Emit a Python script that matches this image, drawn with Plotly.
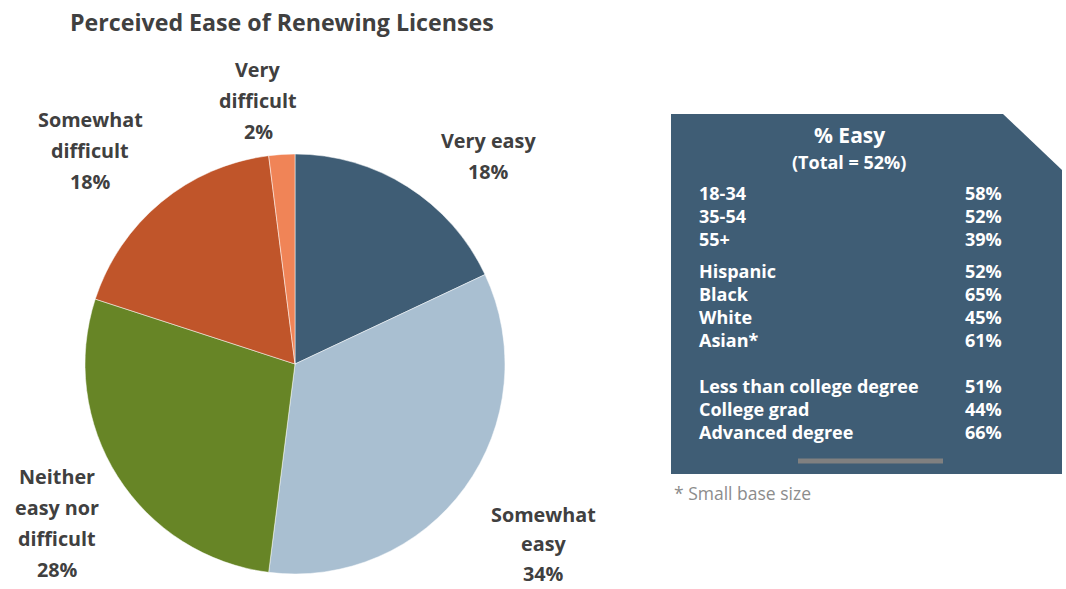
import plotly.graph_objects as go

# ---- data ----
categories = ["Very easy", "Somewhat easy", "Neither easy nor difficult", "Somewhat difficult", "Very difficult"]
values = [18, 34, 28, 18, 2]
colors = ["#3F5D75", "#A9BFD1", "#678526", "#C0552A", "#F08457"]
label_lines = [
    ["Very easy", "18%"],
    ["Somewhat", "easy", "34%"],
    ["Neither", "easy nor", "difficult", "28%"],
    ["Somewhat", "difficult", "18%"],
    ["Very", "difficult", "2%"],
]
# label anchor (center x, first line y, line gap) in pixels
label_pos = [(488, 140, 31), (543, 514, 29.5), (57, 476, 31), (90, 119, 31), (258, 69, 31)]

table_title = "% Easy"
table_subtitle = "(Total = 52%)"
age_groups = ["18-34", "35-54", "55+"]
age_values = ["58%", "52%", "39%"]
eth_groups = ["Hispanic", "Black", "White", "Asian*"]
eth_values = ["52%", "65%", "45%", "61%"]
edu_groups = ["Less than college degree", "College grad", "Advanced degree"]
edu_values = ["51%", "44%", "66%"]
footnote = "* Small base size"
title = "Perceived Ease of Renewing Licenses"

W, H = 1066, 589
FONT = "Open Sans"
TXT = "#404040"

fig = go.Figure()

# pie: center (295,364), radius 210 px
cx, cy, r = 295, 364, 210
fig.add_trace(go.Pie(
    labels=categories, values=values, sort=False, direction="clockwise", rotation=0,
    marker=dict(colors=colors, line=dict(color="white", width=0.5)),
    textinfo="none", hoverinfo="label+percent", showlegend=False,
    domain=dict(x=[(cx - r) / W, (cx + r) / W], y=[(H - cy - r) / H, (H - cy + r) / H]),
))

annotations = []
shapes = []

annotations.append(dict(x=68, y=22, xref="x", yref="y", text="<b>" + title + "</b>", showarrow=False,
                        xanchor="left", yanchor="middle", font=dict(family=FONT, size=23.2, color=TXT)))

for lines, (lx, ly, gap) in zip(label_lines, label_pos):
    for i, t in enumerate(lines):
        annotations.append(dict(x=lx, y=ly + i * gap, xref="x", yref="y", text="<b>" + t + "</b>",
                                showarrow=False, xanchor="center", yanchor="middle",
                                font=dict(family=FONT, size=19.8, color=TXT)))

# table panel with cut corner
px0, py0, px1, py1 = 671, 114, 1062, 474
cut_x, cut_y = 1003, 170
shapes.append(dict(type="path", xref="x", yref="y",
                   path=f"M {px0},{py0} L {cut_x},{py0} L {px1},{cut_y} L {px1},{py1} L {px0},{py1} Z",
                   fillcolor="#3F5D75", line=dict(width=0), layer="below"))
shapes.append(dict(type="line", xref="x", yref="y", x0=798, x1=943, y0=461, y1=461,
                   line=dict(color="#808080", width=5)))

annotations.append(dict(x=849, y=135, xref="x", yref="y", text="<b>" + table_title + "</b>", showarrow=False,
                        xanchor="center", yanchor="middle", font=dict(family=FONT, size=21, color="white")))
annotations.append(dict(x=849, y=162, xref="x", yref="y", text="<b>" + table_subtitle + "</b>", showarrow=False,
                        xanchor="center", yanchor="middle", font=dict(family=FONT, size=18, color="white")))

row_gap = 23
group_starts = [193, 271, 386]
for start, groups, vals in zip(group_starts, [age_groups, eth_groups, edu_groups], [age_values, eth_values, edu_values]):
    for i, (g, v) in enumerate(zip(groups, vals)):
        y = start + i * row_gap
        annotations.append(dict(x=697, y=y, xref="x", yref="y", text="<b>" + g + "</b>", showarrow=False,
                                xanchor="left", yanchor="middle", font=dict(family=FONT, size=18, color="white")))
        annotations.append(dict(x=1004, y=y, xref="x", yref="y", text="<b>" + v + "</b>", showarrow=False,
                                xanchor="right", yanchor="middle", font=dict(family=FONT, size=18, color="white")))

annotations.append(dict(x=672, y=493, xref="x", yref="y", text=footnote, showarrow=False,
                        xanchor="left", yanchor="middle", font=dict(family=FONT, size=17.5, color="#8C8C8C")))

fig.update_layout(
    width=W, height=H, margin=dict(l=0, r=0, t=0, b=0),
    paper_bgcolor="white", plot_bgcolor="rgba(0,0,0,0)",
    xaxis=dict(range=[0, W], visible=False, domain=[0, 1], fixedrange=True),
    yaxis=dict(range=[H, 0], visible=False, domain=[0, 1], fixedrange=True),
    annotations=annotations, shapes=shapes,
)

fig.write_html("out.html", config={"displayModeBar": False},
               post_script="document.body.style.margin='0';document.body.style.overflow='hidden';")
